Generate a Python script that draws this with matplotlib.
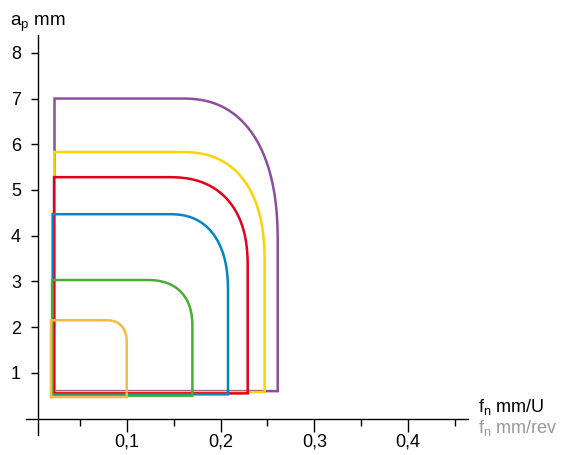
import numpy as np
import matplotlib
matplotlib.use("Agg")
import matplotlib.pyplot as plt
from matplotlib.ticker import FixedLocator

plt.rcParams["font.family"] = ["Liberation Sans", "DejaVu Sans"]

# one entry per coloured application field
colors = ["#8e4c9c", "#fdd300", "#e2001a", "#0086c6", "#4aab35", "#f9b847"]
fn_left = [0.023, 0.0228, 0.0225, 0.021, 0.0204, 0.0193]
fn_right = [0.261, 0.247, 0.229, 0.208, 0.170, 0.100]
ap_bottom = [0.60, 0.58, 0.55, 0.53, 0.50, 0.47]
ap_top = [7.0, 5.83, 5.28, 4.47, 3.03, 2.15]
# where the top edge starts to bend / where the right edge is straight again
fn_bend = [0.158, 0.158, 0.144, 0.145, 0.121, 0.078]
ap_bend = [3.8, 3.4, 3.3, 2.75, 2.0, 1.65]

x_ticks = [0.1, 0.2, 0.3, 0.4]
x_tick_labels = ["0,1", "0,2", "0,3", "0,4"]
x_minor = [0.05, 0.15, 0.25, 0.35, 0.45]
y_ticks = [1, 2, 3, 4, 5, 6, 7, 8]


def field_outline(x0, x1, y0, y1, xb, yb, n=2.4):
    t = np.linspace(0, np.pi / 2, 80)
    cx = xb + (x1 - xb) * np.sin(t) ** (2 / n)
    cy = yb + (y1 - yb) * np.cos(t) ** (2 / n)
    xs = np.concatenate([[x0, x0], cx, [x1, x0]])
    ys = np.concatenate([[y0, y1], cy, [y0, y0]])
    return xs, ys


fig = plt.figure(figsize=(5.63, 4.55), dpi=100)
ax = fig.add_axes([26 / 563, 20 / 455, 442 / 563, 400 / 455])

for c, x0, x1, y0, y1, xb, yb in zip(colors, fn_left, fn_right, ap_bottom,
                                     ap_top, fn_bend, ap_bend):
    xs, ys = field_outline(x0, x1, y0, y1, xb, yb)
    ax.plot(xs, ys, color=c, lw=1.8, solid_joinstyle="miter")

ax.set_xlim(-0.0074, 0.4639)
ax.set_ylim(-0.36, 8.39)

for s in ("top", "right"):
    ax.spines[s].set_visible(False)
ax.spines["left"].set_position(("data", 0.005))
ax.spines["bottom"].set_position(("data", 0))
ax.spines["left"].set_linewidth(1.0)
ax.spines["bottom"].set_linewidth(1.0)

ax.set_xticks(x_ticks)
ax.set_xticklabels(x_tick_labels)
ax.xaxis.set_minor_locator(FixedLocator(x_minor))
ax.set_yticks(y_ticks)
ax.tick_params(axis="x", which="major", length=9, width=1.0, pad=2, labelsize=13)
ax.tick_params(axis="x", which="minor", length=5, width=1.0)
ax.tick_params(axis="y", which="major", length=5, width=1.0, pad=7, labelsize=13)

fig.text(10 / 563, 1 - 26 / 455, r"a$_\mathregular{p}$ mm", fontsize=13.5,
         va="baseline")
fig.text(478 / 563, 1 - 412 / 455, r"f$_\mathregular{n}$ mm/U", fontsize=13,
         va="baseline")
fig.text(478 / 563, 1 - 433 / 455, r"f$_\mathregular{n}$ mm/rev", fontsize=13,
         va="baseline", color="#999999")

fig.savefig("out.png", dpi=100)
plt.close(fig)
